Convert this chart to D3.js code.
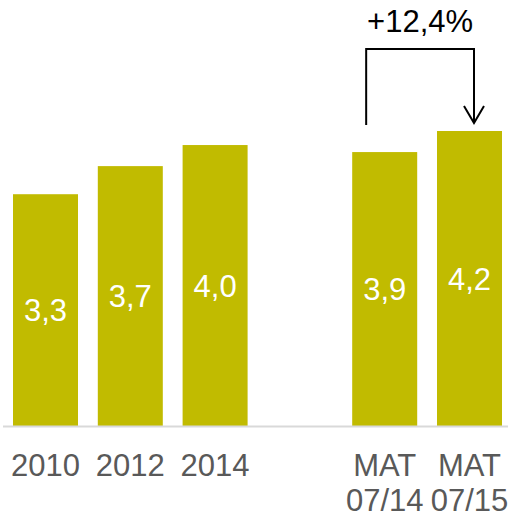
<!DOCTYPE html>
<html>
<head>
<meta charset="utf-8">
<script src="https://cdn.jsdelivr.net/npm/d3@7"></script>
<style>
  html, body { margin: 0; padding: 0; background: #fff; }
  svg { display: block; }
</style>
</head>
<body>
<div id="chart"></div>
<script>
// Datos
const categories = ['2010', '2012', '2014', '', 'MAT 07/14', 'MAT 07/15'];
const values = [3.3, 3.7, 4.0, null, 3.9, 4.2];
const valueLabels = ['3,3', '3,7', '4,0', '', '3,9', '4,2'];
const growthLabel = '+12,4%';

const width = 508, height = 515;
const baseline = 426;
const font = '"Liberation Sans", Arial, sans-serif';

const svg = d3.select('#chart').append('svg')
  .attr('width', width)
  .attr('height', height);

const x = d3.scaleBand()
  .domain(categories)
  .range([13, 502])
  .paddingInner(0.2335)
  .paddingOuter(0);

const y = d3.scaleLinear()
  .domain([0, 4.2])
  .range([baseline, 131]);

const data = categories.map((c, i) => ({ cat: c, value: values[i], label: valueLabels[i] }))
  .filter(d => d.value != null);

// Barras
svg.selectAll('.bar')
  .data(data)
  .enter()
  .append('rect')
  .attr('class', 'bar')
  .attr('x', d => x(d.cat))
  .attr('y', d => y(d.value))
  .attr('width', x.bandwidth())
  .attr('height', d => y(0) - y(d.value))
  .attr('fill', '#c1bb00');

// Línea base
svg.append('line')
  .attr('x1', 3)
  .attr('x2', width)
  .attr('y1', baseline + 0.5)
  .attr('y2', baseline + 0.5)
  .attr('stroke', '#d9d9d9')
  .attr('stroke-width', 2);

// Etiquetas de valor
svg.selectAll('.val')
  .data(data)
  .enter()
  .append('text')
  .attr('class', 'val')
  .attr('x', d => x(d.cat) + x.bandwidth() / 2)
  .attr('y', d => (y(d.value) + y(0)) / 2 + 11)
  .attr('text-anchor', 'middle')
  .style('font-family', font)
  .style('font-size', '31px')
  .style('fill', '#ffffff')
  .text(d => d.label);

// Etiquetas del eje
const axisLabels = svg.selectAll('.cat')
  .data(data)
  .enter()
  .append('text')
  .attr('class', 'cat')
  .attr('x', d => x(d.cat) + x.bandwidth() / 2)
  .attr('y', 476)
  .attr('text-anchor', 'middle')
  .style('font-family', font)
  .style('font-size', '31px')
  .style('fill', '#595959');

axisLabels.each(function(d) {
  const parts = d.cat.split(' ');
  const t = d3.select(this);
  parts.forEach((p, i) => {
    t.append('tspan')
      .attr('x', x(d.cat) + x.bandwidth() / 2)
      .attr('dy', i === 0 ? 0 : 35)
      .text(p);
  });
});

// Corchete de crecimiento
const xa = x('MAT 07/14') + x.bandwidth() * 0.215;
const xb = x('MAT 07/15') + x.bandwidth() / 2 + 4.5;
const yTop = 49;

svg.append('path')
  .attr('d', `M${xa},${y(4.2) - 6} V${yTop} H${xb} V${y(4.2) - 8}`)
  .attr('fill', 'none')
  .attr('stroke', '#000')
  .attr('stroke-width', 2);

svg.append('path')
  .attr('d', `M${xb - 10},${y(4.2) - 25} L${xb},${y(4.2) - 8} L${xb + 10},${y(4.2) - 25}`)
  .attr('fill', 'none')
  .attr('stroke', '#000')
  .attr('stroke-width', 2);

svg.append('text')
  .attr('x', (xa + xb) / 2)
  .attr('y', 32)
  .attr('text-anchor', 'middle')
  .style('font-family', font)
  .style('font-size', '31px')
  .style('fill', '#000')
  .text(growthLabel);
</script>
</body>
</html>
